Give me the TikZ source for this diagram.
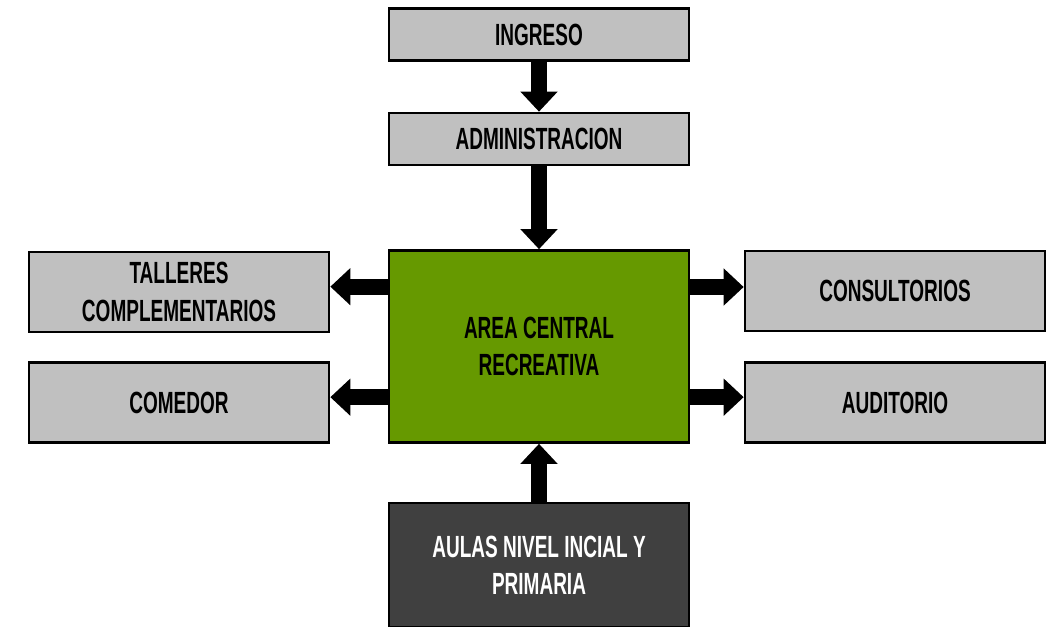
\documentclass[tikz,border=0pt]{standalone}
\usepackage{fontspec}
\usepackage{tikz}
\usetikzlibrary{arrows.meta}
\newfontfamily\boxfont[FakeStretch=0.62]{Liberation Sans}
\definecolor{boxgrey}{HTML}{C0C0C0}
\definecolor{areagreen}{HTML}{669900}
\definecolor{aulasgrey}{HTML}{404040}
\tikzset{
zonebox/.style={draw=black,line width=2pt,fill=boxgrey,minimum width=225pt,align=center,
  font=\boxfont\bfseries\fontsize{23}{28}\selectfont,inner sep=0pt},
flowarrow/.style={line width=12pt,-{Triangle[width=27pt,length=15pt]}}
}

\begin{document}
\begin{tikzpicture}[x=0.75pt,y=-0.75pt]
\useasboundingbox (0,0) rectangle (1062,626);
\node[zonebox,minimum height=39pt] (ingreso) at (539,34.5) {INGRESO};
\node[zonebox,minimum height=39pt] (admin) at (539,139) {ADMINISTRACION};
\node[zonebox,fill=areagreen,minimum height=144pt] (area) at (539,346.5) {AREA CENTRAL\\ RECREATIVA};
\node[zonebox,minimum height=60pt] (talleres) at (179,292) {TALLERES\\ COMPLEMENTARIOS};
\node[zonebox,minimum height=60pt] (comedor) at (179,402.5) {COMEDOR};
\node[zonebox,minimum height=60pt] (consult) at (895,291) {CONSULTORIOS};
\node[zonebox,minimum height=60pt] (audit) at (895,402.5) {AUDITORIO};
\node[zonebox,fill=aulasgrey,text=white,minimum height=93pt] (aulas) at (539,565) {AULAS NIVEL INCIAL Y\\ PRIMARIA};
% flechas
\draw[flowarrow] (ingreso) -- (admin);
\draw[flowarrow] (admin) -- (area);
\draw[flowarrow] ([yshift=4pt]area.west |- talleres.east) -- ([yshift=4pt]talleres.east);
\draw[flowarrow] ([yshift=4pt]area.west |- comedor.east) -- ([yshift=4pt]comedor.east);
\draw[flowarrow] ([yshift=3pt]area.east |- consult.west) -- ([yshift=3pt]consult.west);
\draw[flowarrow] ([yshift=4pt]area.east |- audit.west) -- ([yshift=4pt]audit.west);
\draw[flowarrow] (aulas) -- (area);
\end{tikzpicture}
\end{document}
